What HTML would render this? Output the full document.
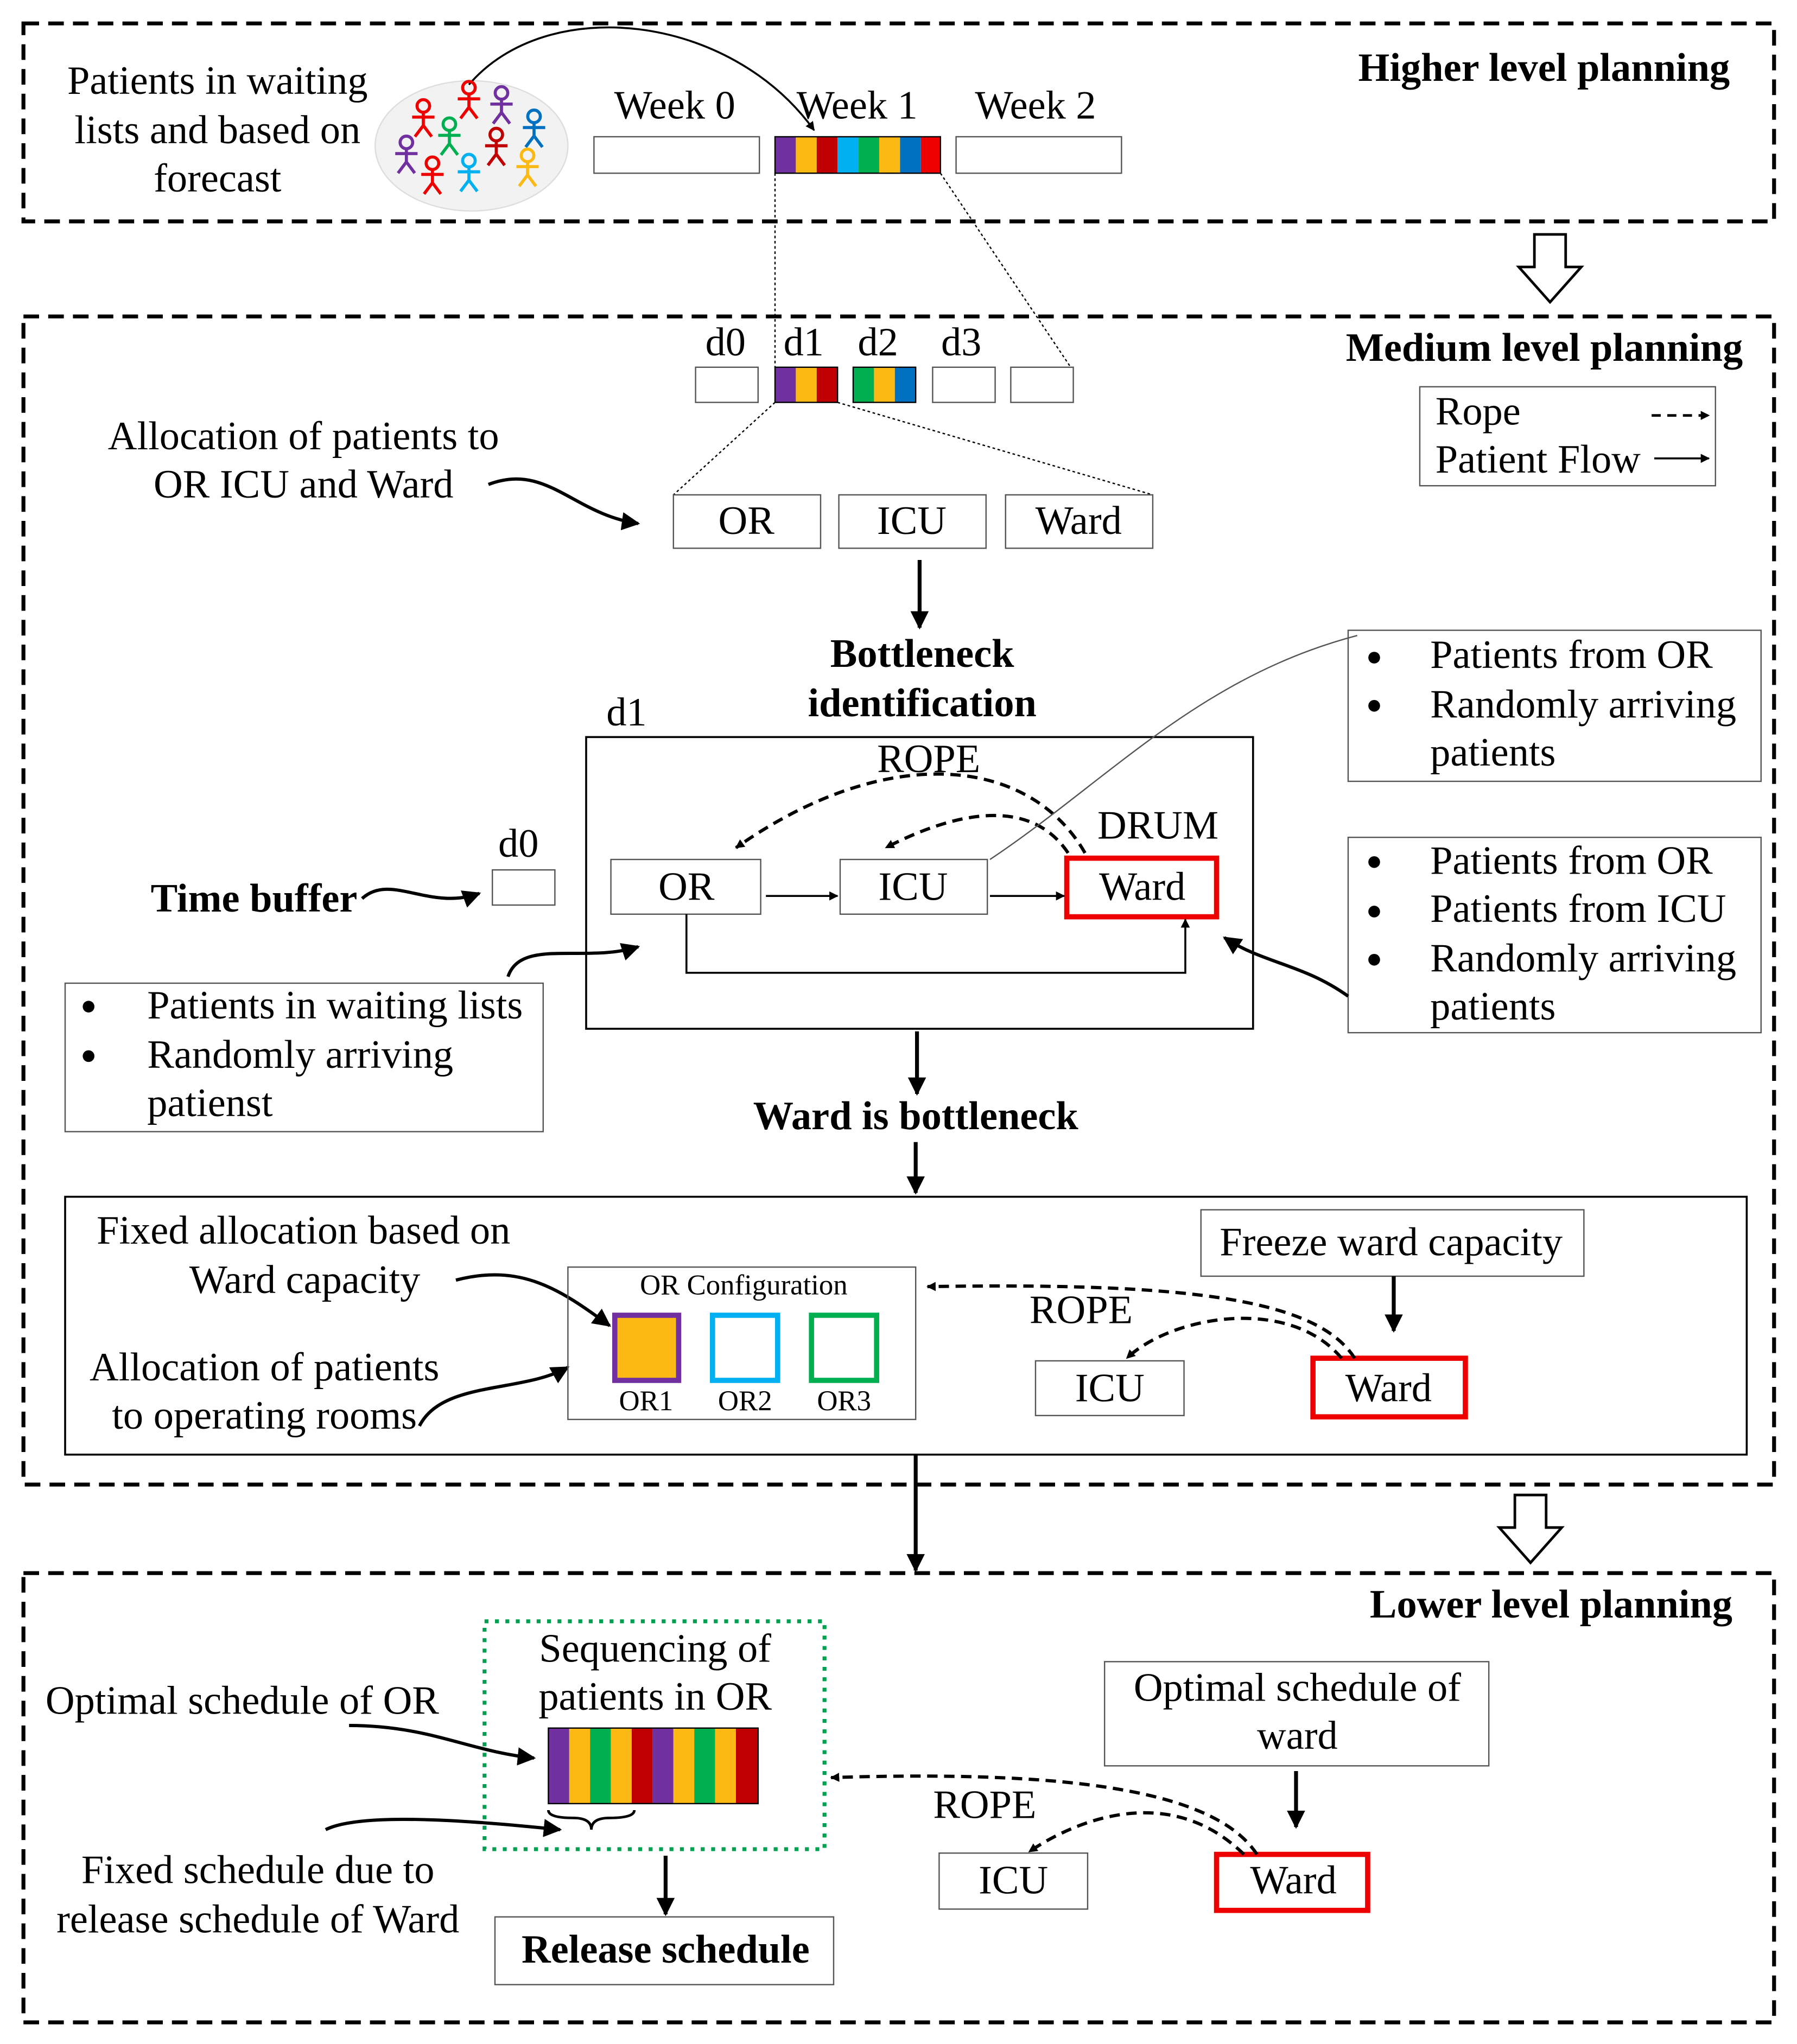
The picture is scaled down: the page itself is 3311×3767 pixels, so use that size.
<!DOCTYPE html>
<html><head><meta charset="utf-8"><style>html,body{margin:0;padding:0;background:#fff}svg{display:block}text{font-family:"Liberation Serif",serif;fill:#000}</style></head><body>
<svg width="3311" height="3767" viewBox="0 0 1379.6 1569.6" xmlns="http://www.w3.org/2000/svg">
<defs>
<marker id="ah" viewBox="0 0 10 10" refX="9" refY="5" markerWidth="7" markerHeight="7" orient="auto-start-reverse" markerUnits="userSpaceOnUse"><path d="M0,0 L10,5 L0,10 z" fill="#000"/></marker>
<marker id="ab" viewBox="0 0 10 10" refX="9" refY="5" markerWidth="14" markerHeight="14" orient="auto" markerUnits="userSpaceOnUse"><path d="M0,0 L10,5 L0,10 z" fill="#000"/></marker>
<symbol id="fig" viewBox="-10 -14 20 28" overflow="visible"><circle cx="0" cy="-9" r="4.5" fill="none" stroke-width="2.2"/><path d="M0,-4.5 V5 M-8,-1 H8 M0,5 L-6,13 M0,5 L6,13" fill="none" stroke-width="2.2"/></symbol>
</defs>
<g fill="none" stroke="#000">
<rect x="18" y="18" width="1344" height="152" stroke-width="3" stroke-dasharray="12,7"/>
<ellipse cx="362" cy="112" rx="74" ry="50" fill="#f2f2f2" stroke="#ddd"/>
<rect x="456" y="105" width="127" height="28" stroke="#555"/>
<rect x="734" y="105" width="127" height="28" stroke="#555"/>
<path d="M360,65 C420,-5 560,10 625,100" stroke-width="1.5" marker-end="url(#ah)"/>
<path d="M1178,180 H1202 V205 H1214 L1190,232 L1166,205 H1178 Z" stroke-width="2"/>
<rect x="18" y="243" width="1344" height="897" stroke-width="3" stroke-dasharray="12,7"/>
<path d="M595,133 V282 M722,133 L822,282" stroke-dasharray="2,2"/>
<rect x="534" y="282" width="48" height="27" stroke="#555"/>
<rect x="716" y="282" width="48" height="27" stroke="#555"/>
<rect x="776" y="282" width="48" height="27" stroke="#555"/>
<rect x="1090" y="297" width="227" height="76" stroke="#555"/>
<path d="M1268,319 H1312" stroke-width="2" stroke-dasharray="7,5" marker-end="url(#ah)"/>
<path d="M1270,352 H1312" stroke-width="1.5" marker-end="url(#ah)"/>
<path d="M595,309 L517,380 M643,309 L885,380" stroke-dasharray="2,2"/>
<path d="M375,372 C420,355 440,395 490,402" stroke-width="2.5" marker-end="url(#ab)"/>
<rect x="517" y="380" width="113" height="41" stroke="#555"/>
<rect x="644" y="380" width="113" height="41" stroke="#555"/>
<rect x="772" y="380" width="113" height="41" stroke="#555"/>
<path d="M706,430 V482" stroke-width="3" marker-end="url(#ab)"/>
<rect x="450" y="566" width="512" height="224" stroke-width="1.5"/>
<rect x="469" y="660" width="115" height="42" stroke="#555"/>
<rect x="645" y="660" width="113" height="42" stroke="#555"/>
<rect x="819" y="659" width="115" height="45" stroke="#e00" stroke-width="4"/>
<path d="M588,688 H643" stroke-width="1.5" marker-end="url(#ah)"/>
<path d="M760,688 H817" stroke-width="1.5" marker-end="url(#ah)"/>
<path d="M527,702 V747 H910 V706" stroke-width="1.5" marker-end="url(#ah)"/>
<path d="M833,655 C790,580 680,570 565,651" stroke-width="2.5" stroke-dasharray="8,5" marker-end="url(#ah)"/>
<path d="M820,655 C790,610 730,625 680,651" stroke-width="2.5" stroke-dasharray="8,5" marker-end="url(#ah)"/>
<path d="M1042,488 C920,520 850,600 760,660" stroke="#555"/>
<rect x="1035" y="484" width="317" height="116" stroke="#555"/>
<rect x="1035" y="643" width="317" height="150" stroke="#555"/>
<path d="M1035,765 C1000,740 970,740 940,720" stroke-width="2.5" marker-end="url(#ab)"/>
<rect x="378" y="668" width="48" height="27" stroke="#555"/>
<path d="M278,690 C300,670 330,700 368,686" stroke-width="2.5" marker-end="url(#ab)"/>
<rect x="50" y="755" width="367" height="114" stroke="#555"/>
<path d="M390,750 C400,720 450,740 490,727" stroke-width="2.5" marker-end="url(#ab)"/>
<path d="M704,792 V840" stroke-width="3" marker-end="url(#ab)"/>
<path d="M703,877 V916" stroke-width="3" marker-end="url(#ab)"/>
<rect x="50" y="919" width="1291" height="198" stroke-width="1.5"/>
<path d="M350,983 C400,970 430,990 468,1018" stroke-width="2.5" marker-end="url(#ab)"/>
<path d="M322,1095 C340,1060 400,1070 436,1050" stroke-width="2.5" marker-end="url(#ab)"/>
<rect x="436" y="973" width="267" height="117" stroke="#555"/>
<rect x="472" y="1010" width="49" height="50" fill="#fdb913" stroke="#7030a0" stroke-width="4"/>
<rect x="547" y="1010" width="50" height="50" stroke="#00b0f0" stroke-width="4"/>
<rect x="623" y="1010" width="50" height="50" stroke="#00b050" stroke-width="4"/>
<rect x="922" y="929" width="294" height="51" stroke="#555"/>
<path d="M1070,980 V1022" stroke-width="3" marker-end="url(#ab)"/>
<rect x="795" y="1045" width="114" height="42" stroke="#555"/>
<rect x="1008" y="1043" width="117" height="45" stroke="#e00" stroke-width="4"/>
<path d="M1040,1043 C1010,995 900,985 712,988" stroke-width="2.5" stroke-dasharray="8,5" marker-end="url(#ah)"/>
<path d="M1030,1043 C990,995 900,1010 865,1043" stroke-width="2.5" stroke-dasharray="8,5" marker-end="url(#ah)"/>
<path d="M703,1117 V1206" stroke-width="3" marker-end="url(#ab)"/>
<path d="M1163,1148 H1187 V1173 H1199 L1175,1200 L1151,1173 H1163 Z" stroke-width="2"/>
<rect x="18" y="1208" width="1344" height="345" stroke-width="3" stroke-dasharray="12,7"/>
<rect x="372" y="1245" width="261" height="175" stroke="#00a050" stroke-width="3" stroke-dasharray="3,5"/>
<path d="M421,1390 Q421,1396 440,1396 Q454,1396 454,1405 Q454,1396 468,1396 Q487,1396 487,1390" stroke-width="2"/>
<path d="M268,1325 C330,1325 360,1345 410,1350" stroke-width="2.5" marker-end="url(#ab)"/>
<path d="M250,1405 C280,1390 380,1400 430,1405" stroke-width="2.5" marker-end="url(#ab)"/>
<path d="M511,1425 V1470" stroke-width="3" marker-end="url(#ab)"/>
<rect x="380" y="1472" width="260" height="52" stroke="#555"/>
<rect x="848" y="1276" width="295" height="80" stroke="#555"/>
<path d="M995,1360 V1403" stroke-width="3" marker-end="url(#ab)"/>
<rect x="721" y="1423" width="114" height="43" stroke="#555"/>
<rect x="934" y="1424" width="116" height="43" stroke="#e00" stroke-width="4"/>
<path d="M965,1424 C930,1370 800,1360 638,1365" stroke-width="2.5" stroke-dasharray="8,5" marker-end="url(#ah)"/>
<path d="M955,1424 C900,1370 830,1395 790,1422" stroke-width="2.5" stroke-dasharray="8,5" marker-end="url(#ah)"/>
</g>
<g stroke="none">
<rect x="595" y="105" width="16" height="28" fill="#7030a0"/><rect x="611" y="105" width="16" height="28" fill="#fdb913"/><rect x="627" y="105" width="16" height="28" fill="#c00000"/><rect x="643" y="105" width="16" height="28" fill="#00b0f0"/><rect x="659" y="105" width="16" height="28" fill="#00b050"/><rect x="675" y="105" width="16" height="28" fill="#fdb913"/><rect x="691" y="105" width="16" height="28" fill="#0070c0"/><rect x="707" y="105" width="15" height="28" fill="#e00"/>
<rect x="595" y="282" width="16" height="27" fill="#7030a0"/><rect x="611" y="282" width="16" height="27" fill="#fdb913"/><rect x="627" y="282" width="16" height="27" fill="#c00000"/>
<rect x="655" y="282" width="16" height="27" fill="#00b050"/><rect x="671" y="282" width="16" height="27" fill="#fdb913"/><rect x="687" y="282" width="16" height="27" fill="#0070c0"/>
<rect x="421" y="1327" width="16" height="58" fill="#7030a0"/><rect x="437" y="1327" width="16" height="58" fill="#fdb913"/><rect x="453" y="1327" width="16" height="58" fill="#00b050"/><rect x="469" y="1327" width="16" height="58" fill="#fdb913"/><rect x="485" y="1327" width="16" height="58" fill="#c00000"/><rect x="501" y="1327" width="16" height="58" fill="#7030a0"/><rect x="517" y="1327" width="16" height="58" fill="#fdb913"/><rect x="533" y="1327" width="16" height="58" fill="#00b050"/><rect x="549" y="1327" width="16" height="58" fill="#fdb913"/><rect x="565" y="1327" width="17" height="58" fill="#c00000"/>
</g>
<g stroke="#000" fill="none"><rect x="595" y="105" width="127" height="28"/><rect x="595" y="282" width="48" height="27"/><rect x="655" y="282" width="48" height="27"/><rect x="421" y="1327" width="161" height="58"/></g>
<use href="#fig" x="313" y="76" width="24" height="30" stroke="#e00"/>
<use href="#fig" x="348" y="62" width="24" height="30" stroke="#e00"/>
<use href="#fig" x="373" y="66" width="24" height="30" stroke="#7030a0"/>
<use href="#fig" x="333" y="90" width="24" height="30" stroke="#00b050"/>
<use href="#fig" x="369" y="98" width="24" height="30" stroke="#c00000"/>
<use href="#fig" x="398" y="84" width="24" height="30" stroke="#0070c0"/>
<use href="#fig" x="300" y="104" width="24" height="30" stroke="#7030a0"/>
<use href="#fig" x="320" y="120" width="24" height="30" stroke="#e00"/>
<use href="#fig" x="348" y="118" width="24" height="30" stroke="#00b0f0"/>
<use href="#fig" x="393" y="114" width="24" height="30" stroke="#fdb913"/>
<g font-size="31">
<g text-anchor="middle">
<text x="167" y="72">Patients in waiting</text><text x="167" y="110">lists and based on</text><text x="167" y="147">forecast</text>
<text x="518" y="91">Week 0</text><text x="658" y="91">Week 1</text><text x="795" y="91">Week 2</text>
<text x="557" y="273">d0</text><text x="617" y="273">d1</text><text x="674" y="273">d2</text><text x="738" y="273">d3</text>
<text x="233" y="345">Allocation of patients to</text><text x="233" y="382">OR ICU and Ward</text>
<text x="573" y="410">OR</text><text x="700" y="410">ICU</text><text x="828" y="410">Ward</text>
<text x="708" y="512" font-weight="bold">Bottleneck</text><text x="708" y="550" font-weight="bold">identification</text>
<text x="481" y="557">d1</text><text x="713" y="593">ROPE</text><text x="889" y="644">DRUM</text>
<text x="527" y="691">OR</text><text x="701" y="691">ICU</text><text x="877" y="691">Ward</text>
<text x="398" y="658">d0</text><text x="195" y="700" font-weight="bold">Time buffer</text>
<text x="703" y="867" font-weight="bold">Ward is bottleneck</text>
<text x="233" y="955">Fixed allocation based on</text><text x="234" y="993">Ward capacity</text>
<text x="203" y="1060">Allocation of patients</text><text x="203" y="1097">to operating rooms</text>
<text x="1068" y="964">Freeze ward capacity</text><text x="830" y="1016">ROPE</text>
<text x="852" y="1076">ICU</text><text x="1066" y="1076">Ward</text>
<text x="503" y="1276">Sequencing of</text><text x="503" y="1313">patients in OR</text>
<text x="186" y="1316">Optimal schedule of OR</text>
<text x="198" y="1446">Fixed schedule due to</text><text x="198" y="1484">release schedule of Ward</text>
<text x="511" y="1507" font-weight="bold">Release schedule</text>
<text x="996" y="1306">Optimal schedule of</text><text x="996" y="1343">ward</text>
<text x="756" y="1396">ROPE</text><text x="778" y="1454">ICU</text><text x="993" y="1454">Ward</text>
</g>
<g text-anchor="end" font-weight="bold"><text x="1328" y="62">Higher level planning</text><text x="1338" y="277">Medium level planning</text><text x="1330" y="1242">Lower level planning</text></g>
<text x="1102" y="326">Rope</text><text x="1102" y="363">Patient Flow</text>
<text x="1098" y="513">Patients from OR</text><text x="1098" y="551">Randomly arriving</text><text x="1098" y="588">patients</text>
<text x="1098" y="671">Patients from OR</text><text x="1098" y="708">Patients from ICU</text><text x="1098" y="746">Randomly arriving</text><text x="1098" y="783">patients</text>
<text x="113" y="782">Patients in waiting lists</text><text x="113" y="820">Randomly arriving</text><text x="113" y="857">patienst</text>
</g>
<g fill="#000"><circle cx="1055" cy="505" r="4.5"/><circle cx="1055" cy="542" r="4.5"/><circle cx="1055" cy="662" r="4.5"/><circle cx="1055" cy="700" r="4.5"/><circle cx="1055" cy="737" r="4.5"/><circle cx="68" cy="773" r="4.5"/><circle cx="68" cy="811" r="4.5"/></g>
<g font-size="22" text-anchor="middle"><text x="571" y="994">OR Configuration</text><text x="496" y="1083">OR1</text><text x="572" y="1083">OR2</text><text x="648" y="1083">OR3</text></g>
</svg>
</body></html>
